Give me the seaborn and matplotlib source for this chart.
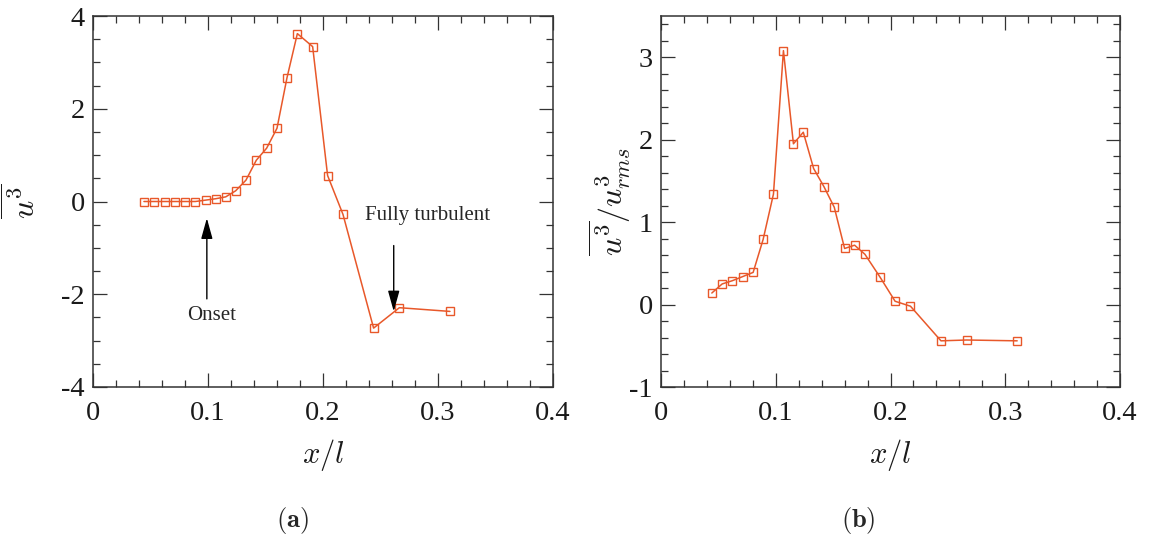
import matplotlib
matplotlib.use("Agg")
import matplotlib.pyplot as plt
from matplotlib.ticker import MultipleLocator
import seaborn as sns
import pandas as pd

# Streamwise stations x/l (shared by both profiles)
x_over_l = [0.0443, 0.0533, 0.0623, 0.0713, 0.0803, 0.0890, 0.0980, 0.1067,
            0.1154, 0.1240, 0.1330, 0.1420, 0.1510, 0.1600, 0.1687, 0.1777,
            0.1910, 0.2040, 0.2174, 0.2440, 0.2664, 0.3104]

# Third moment of the streamwise fluctuation
u3_mean = [0.00, 0.00, 0.00, 0.00, 0.00, 0.00, 0.03, 0.06,
           0.10, 0.23, 0.46, 0.89, 1.15, 1.58, 2.67, 3.62,
           3.34, 0.56, -0.28, -2.73, -2.29, -2.37]

# Skewness u^3 / u_rms^3
skewness = [0.14, 0.25, 0.29, 0.34, 0.39, 0.79, 1.34, 3.08,
            1.95, 2.09, 1.65, 1.43, 1.18, 0.68, 0.72, 0.61,
            0.33, 0.04, -0.02, -0.44, -0.43, -0.44]

x_ticks = [0, 0.1, 0.2, 0.3, 0.4]
x_ticklabels = ["0", "0.1", "0.2", "0.3", "0.4"]
panel_labels = ["(a)", "(b)"]

sns.set_theme(style="ticks")
plt.rcParams["font.family"] = ["Liberation Serif", "DejaVu Serif"]
plt.rcParams["mathtext.fontset"] = "cm"
plt.rcParams["axes.unicode_minus"] = False

LINE = "#E8582A"
EDGE = "#333333"
TEXT = "#1a1a1a"

df = pd.DataFrame({"x": x_over_l, "u3": u3_mean, "skew": skewness})

fig = plt.figure(figsize=(11.52, 5.38), dpi=100)
ax1 = fig.add_axes([93 / 1152, 1 - 387 / 538, 460 / 1152, 371 / 538])
ax2 = fig.add_axes([661 / 1152, 1 - 387 / 538, 459 / 1152, 371 / 538])


def style_axes(ax, ylim, ymajor, yminor):
    ax.set_xlim(0, 0.4)
    ax.set_ylim(*ylim)
    ax.set_xticks(x_ticks)
    ax.set_xticklabels(x_ticklabels)
    ax.xaxis.set_minor_locator(MultipleLocator(0.02))
    ax.yaxis.set_major_locator(MultipleLocator(ymajor))
    ax.yaxis.set_minor_locator(MultipleLocator(yminor))
    ax.tick_params(which="both", direction="in", top=True, right=True,
                   color=EDGE, width=0.9, labelsize=20.5, labelcolor=TEXT)
    ax.tick_params(which="major", length=10)
    ax.tick_params(axis="x", which="major", pad=10)
    ax.tick_params(axis="y", which="major", pad=6)
    ax.tick_params(which="minor", length=5)
    for sp in ax.spines.values():
        sp.set_color(EDGE)
        sp.set_linewidth(1.1)
    ax.set_xlabel(r"$x/l$", fontsize=22, color=TEXT)
    ax.xaxis.set_label_coords(0.5, -0.135)


marker_kw = dict(marker="s", markersize=5.5, markerfacecolor="none",
                 markeredgecolor=LINE, markeredgewidth=1.0)

sns.lineplot(data=df, x="x", y="u3", ax=ax1, color=LINE, linewidth=1.1,
             sort=False, **marker_kw)
style_axes(ax1, (-4, 4), 2, 0.5)
ax1.set_ylabel(r"$\overline{u^3}$", fontsize=23, color=TEXT)
ax1.yaxis.set_label_coords(-0.108, 0.5)

arrow = dict(arrowstyle="-|>,head_length=0.9,head_width=0.25", color="black",
             lw=1.0, mutation_scale=14, shrinkA=0, shrinkB=0)
ax1.annotate("", xy=(0.099, -0.36), xytext=(0.099, -2.1), arrowprops=arrow)
ax1.text(0.1035, -2.45, "Onset", fontsize=15, ha="center", va="center")
ax1.annotate("", xy=(0.2615, -2.37), xytext=(0.2615, -0.95), arrowprops=arrow)
ax1.text(0.291, -0.31, "Fully turbulent", fontsize=15, ha="center", va="center")

sns.lineplot(data=df, x="x", y="skew", ax=ax2, color=LINE, linewidth=1.1,
             sort=False, **marker_kw)
style_axes(ax2, (-1, 3.5), 1, 0.2)
ax2.set_ylabel(r"$\overline{u^3}/u^3_{rms}$", fontsize=23, color=TEXT)
ax2.yaxis.set_label_coords(-0.062, 0.5)

fig.text(292 / 1152, 1 - 520 / 538, r"$\mathbf{" + panel_labels[0] + "}$",
         fontsize=19, ha="center", va="center")
fig.text(858 / 1152, 1 - 520 / 538, r"$\mathbf{" + panel_labels[1] + "}$",
         fontsize=19, ha="center", va="center")

fig.savefig("out.png", dpi=100)
